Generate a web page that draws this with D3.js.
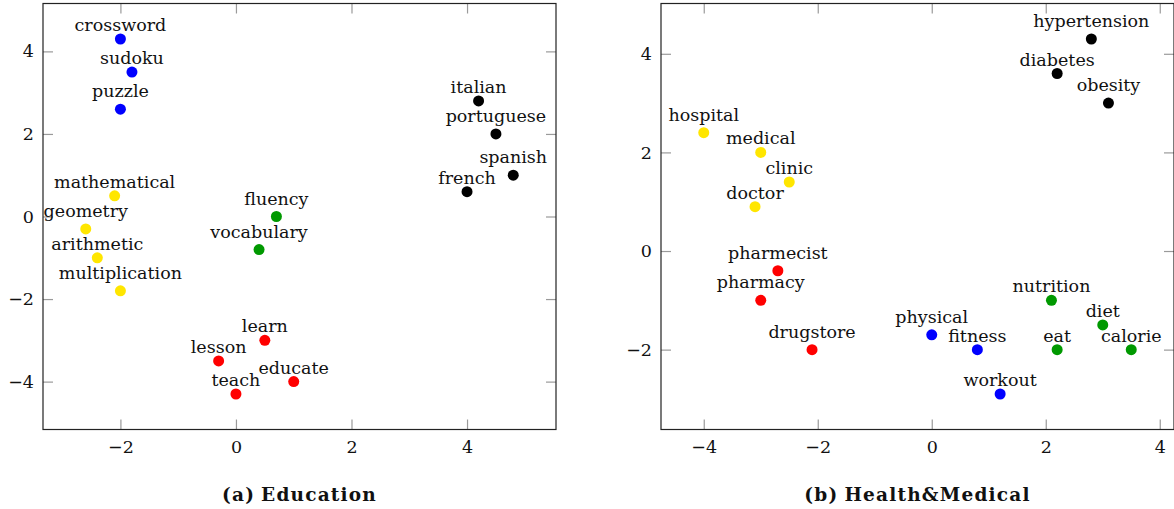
<html>
<head>
<script src="https://d3js.org/d3.v7.min.js"></script>
<style>
  body { margin: 0; background: white; }
  text { font-family: "DejaVu Serif", serif; }
</style>
</head>
<body>
<svg id="chart" width="1174" height="509"></svg>
<script>
// panel (a) Education
const eduWords  = ["crossword","sudoku","puzzle","mathematical","geometry","arithmetic","multiplication","fluency","vocabulary","learn","lesson","educate","teach","italian","portuguese","spanish","french"];
const eduX      = [-2, -1.8, -2, -2.1, -2.6, -2.4, -2, 0.7, 0.4, 0.5, -0.3, 1, 0, 4.2, 4.5, 4.8, 4.0];
const eduY      = [4.3, 3.5, 2.6, 0.5, -0.3, -1.0, -1.8, 0, -0.8, -3, -3.5, -4, -4.3, 2.8, 2.0, 1.0, 0.6];
const eduGroup  = ["blue","blue","blue","yellow","yellow","yellow","yellow","green","green","red","red","red","red","black","black","black","black"];
const eduXTicks = [-2, 0, 2, 4];
const eduYTicks = [-4, -2, 0, 2, 4];

// panel (b) Health&Medical
const medWords  = ["hypertension","diabetes","obesity","hospital","medical","clinic","doctor","pharmecist","pharmacy","drugstore","physical","fitness","workout","nutrition","diet","eat","calorie"];
const medX      = [2.8, 2.2, 3.1, -4, -3, -2.5, -3.1, -2.7, -3, -2.1, 0, 0.8, 1.2, 2.1, 3, 2.2, 3.5];
const medY      = [4.3, 3.6, 3.0, 2.4, 2.0, 1.4, 0.9, -0.4, -1, -2, -1.7, -2, -2.9, -1, -1.5, -2, -2];
const medGroup  = ["black","black","black","yellow","yellow","yellow","yellow","red","red","red","blue","blue","blue","green","green","green","green"];
const medXTicks = [-4, -2, 0, 2, 4];
const medYTicks = [-2, 0, 2, 4];

const colors = {blue: "#0000ff", yellow: "#ffe600", green: "#009900", red: "#ff0000", black: "#000000"};

let svg = d3.select("svg#chart");

function panel(left, caption, words, xs, ys, groups, xTicks, yTicks) {
    const w = 513, h = 426, top = 3.5;
    // pgfplots style: enlarge limits by 10%
    let xExt = d3.extent(xs), yExt = d3.extent(ys);
    let dx = (xExt[1] - xExt[0]) * 0.1, dy = (yExt[1] - yExt[0]) * 0.1;
    let xScale = d3.scaleLinear().domain([xExt[0] - dx, xExt[1] + dx]).range([left, left + w]);
    let yScale = d3.scaleLinear().domain([yExt[0] - dy, yExt[1] + dy]).range([top + h, top]);

    let g = svg.append("g");
    const fmt = d => d < 0 ? "\u2212" + Math.abs(d) : "" + d;

    // ticks inside the frame on all sides
    let tl = 10;
    g.append("g").attr("transform", "translate(0," + (top + h) + ")")
        .call(d3.axisBottom(xScale).tickValues(xTicks).tickSize(-tl).tickFormat(fmt).tickPadding(11))
        .call(a => a.select(".domain").remove());
    g.append("g").attr("transform", "translate(0," + top + ")")
        .call(d3.axisTop(xScale).tickValues(xTicks).tickSize(-tl).tickFormat(""))
        .call(a => a.select(".domain").remove());
    g.append("g").attr("transform", "translate(" + left + ",0)")
        .call(d3.axisLeft(yScale).tickValues(yTicks).tickSize(-tl).tickFormat(fmt).tickPadding(9))
        .call(a => a.select(".domain").remove());
    g.append("g").attr("transform", "translate(" + (left + w) + ",0)")
        .call(d3.axisRight(yScale).tickValues(yTicks).tickSize(-tl).tickFormat(""))
        .call(a => a.select(".domain").remove());
    g.selectAll(".tick line").attr("stroke", "#9a9a9a").attr("stroke-width", 1.2);
    g.selectAll(".tick text").attr("font-size", 17.5).attr("fill", "#111")
        .style("font-family", "'DejaVu Serif',serif");

    g.append("rect").attr("x", left).attr("y", top).attr("width", w).attr("height", h)
        .attr("fill", "none").attr("stroke", "#222").attr("stroke-width", 1.2);

    words.forEach((wd, i) => {
        let cx = xScale(xs[i]), cy = yScale(ys[i]);
        g.append("circle").attr("cx", cx).attr("cy", cy).attr("r", 5.5)
            .style("fill", colors[groups[i]]);
        let base = cy - 8 - (/[gjpqy]/.test(wd) ? 4 : 0);
        g.append("text").attr("x", cx).attr("y", base)
            .attr("text-anchor", "middle").attr("font-size", 17.5).attr("fill", "#111")
            .text(wd);
    });

    let cap = g.append("text").attr("x", left + w / 2).attr("y", 501)
        .attr("text-anchor", "middle").attr("font-size", 18.5).attr("font-weight", "bold")
        .attr("letter-spacing", 1.2).attr("fill", "#111");
    cap.append("tspan").text(caption[0]);
    cap.append("tspan").attr("dx", 6).text(caption[1]);
}

panel(43, ["(a)", "Education"], eduWords, eduX, eduY, eduGroup, eduXTicks, eduYTicks);
panel(661, ["(b)", "Health&Medical"], medWords, medX, medY, medGroup, medXTicks, medYTicks);
</script>
</body>
</html>
